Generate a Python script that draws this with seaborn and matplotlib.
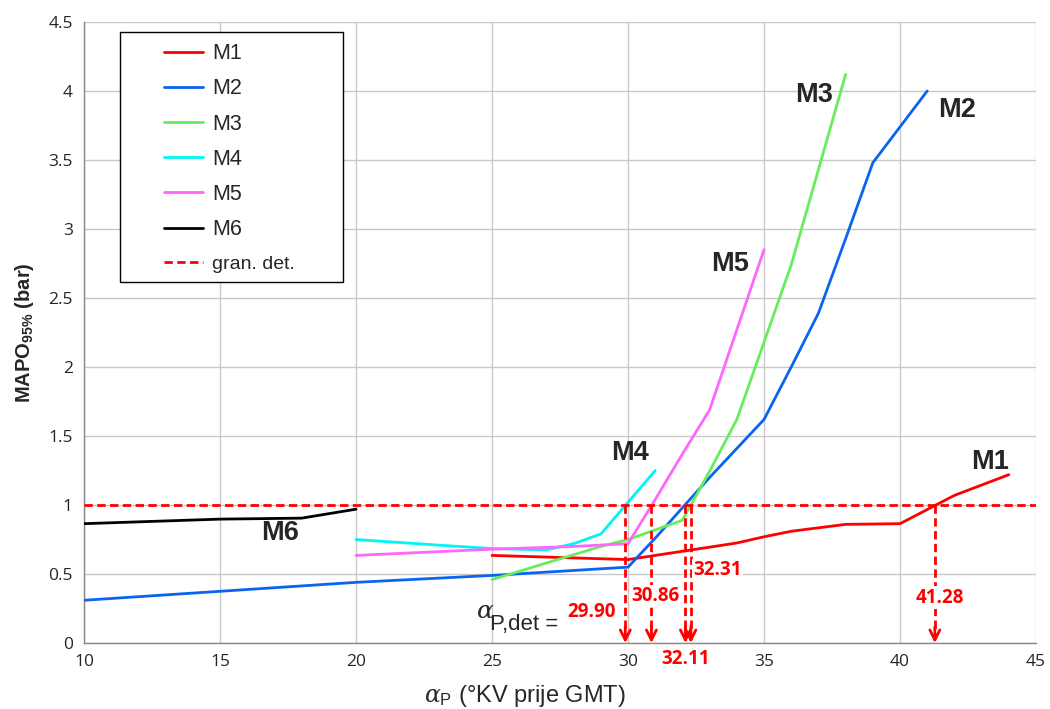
import matplotlib
matplotlib.use("Agg")
import matplotlib.pyplot as plt
import pandas as pd
import seaborn as sns
from matplotlib.lines import Line2D
from matplotlib.patches import Rectangle

# data
m1_x = [25, 30, 31, 32, 33, 34, 35, 36, 37, 38, 40, 42, 44]
m1_y = [0.635, 0.605, 0.635, 0.665, 0.695, 0.725, 0.77, 0.81, 0.835, 0.86, 0.865, 1.07, 1.22]
m2_x = [10, 20, 25, 30, 31, 32, 33, 34, 35, 36, 37, 38, 39, 40, 41]
m2_y = [0.31, 0.44, 0.49, 0.55, 0.76, 0.98, 1.2, 1.41, 1.62, 2.0, 2.39, 2.93, 3.48, 3.74, 4.0]
m3_x = [25, 27, 29, 30, 31, 32, 33, 34, 35, 36, 37, 38]
m3_y = [0.46, 0.58, 0.7, 0.75, 0.82, 0.89, 1.245, 1.62, 2.18, 2.74, 3.43, 4.12]
m4_x = [20, 23, 25, 27, 28, 29, 30, 31]
m4_y = [0.75, 0.71, 0.685, 0.675, 0.72, 0.79, 1.02, 1.25]
m5_x = [20, 25, 28, 30, 31, 32, 33, 34, 35]
m5_y = [0.635, 0.68, 0.70, 0.72, 1.04, 1.37, 1.69, 2.27, 2.85]
m6_x = [10, 15, 18, 20]
m6_y = [0.865, 0.898, 0.905, 0.97]

models = ["M1", "M2", "M3", "M4", "M5", "M6"]
colors = ["#ff0000", "#0a64f0", "#66ee5a", "#00f5f5", "#ff66ff", "#000000"]
det_limit = 1.0
det_values = [29.90, 30.86, 32.11, 32.31, 41.28]
det_labels = ["29.90", "30.86", "32.11", "32.31", "41.28"]

series = {
    "M1": (m1_x, m1_y), "M2": (m2_x, m2_y), "M3": (m3_x, m3_y),
    "M4": (m4_x, m4_y), "M5": (m5_x, m5_y), "M6": (m6_x, m6_y),
}
rows = []
for name, (xs, ys) in series.items():
    for x, y in zip(xs, ys):
        rows.append({"model": name, "alpha": x, "mapo": y})
df = pd.DataFrame(rows)

sns.set_style("whitegrid")
plt.rcParams["font.family"] = ["Liberation Sans", "DejaVu Sans"]
plt.rcParams["mathtext.fontset"] = "custom"
plt.rcParams["mathtext.rm"] = "Liberation Sans"
plt.rcParams["mathtext.bf"] = "Liberation Sans:bold"
plt.rcParams["mathtext.it"] = "DejaVu Serif:italic"

fig = plt.figure(figsize=(10.5, 7.09), dpi=100)
ax = fig.add_axes([0.08, 0.093, 0.9067, 0.876])

palette = dict(zip(models, colors))
sns.lineplot(data=df, x="alpha", y="mapo", hue="model", palette=palette,
             estimator=None, sort=False, linewidth=2, legend=False, ax=ax, zorder=3)

dash = (0, (3, 1.6))
ax.axhline(det_limit, color="#ff0000", linestyle=dash, linewidth=2, zorder=4)

# detection arrows
for xv in det_values:
    ax.plot([xv, xv], [det_limit, 0.06], color="#ff0000", linestyle=dash,
            linewidth=2, zorder=4)
    ax.annotate("", xy=(xv, 0.0), xytext=(xv, 0.12),
                arrowprops=dict(arrowstyle="->", color="#ff0000", lw=2,
                                mutation_scale=18, shrinkA=0, shrinkB=0),
                zorder=5)

lab_pos = {"29.90": (28.64, 0.225), "30.86": (31.0, 0.34), "32.11": (32.13, -0.116),
           "32.31": (33.3, 0.53), "41.28": (41.45, 0.33)}
for lab in det_labels:
    lx, ly = lab_pos[lab]
    ax.text(lx, ly, lab, color="#ff0000", fontsize=13.5, fontweight="bold",
            family="Open Sans", ha="center", va="center", zorder=6,
            bbox=dict(facecolor="white", edgecolor="none", pad=1.0), clip_on=False)

# alpha_P,det = label
ax.text(24.93, 0.094, "P,det =", fontsize=16, ha="left", va="baseline", zorder=6)
ax.text(25.05, 0.181, "\u03b1", fontsize=18, family="DejaVu Serif", style="italic",
        ha="right", va="baseline", zorder=6)

# curve labels
curve_labels = {"M1": (43.3, 1.31), "M2": (42.1, 3.86), "M3": (36.84, 3.97),
                "M4": (30.07, 1.38), "M5": (33.75, 2.75), "M6": (17.2, 0.80)}
for name, (lx, ly) in curve_labels.items():
    ax.text(lx, ly, name, fontsize=19.5, fontweight="bold", ha="center",
            va="center", zorder=6)

ax.set_xlim(10, 45)
ax.set_ylim(0, 4.5)
ax.set_xticks(range(10, 46, 5))
ax.set_yticks([0, 0.5, 1, 1.5, 2, 2.5, 3, 3.5, 4, 4.5])
ax.set_yticklabels(["0", "0.5", "1", "1.5", "2", "2.5", "3", "3.5", "4", "4.5"])
for lbl in ax.get_xticklabels() + ax.get_yticklabels():
    lbl.set_family("Open Sans")
    lbl.set_fontsize(12.5)
ax.tick_params(axis="both", length=4, color="#888888", pad=4)
ax.grid(True, color="#c8c8c8", linewidth=1)
for side in ["top", "right"]:
    ax.spines[side].set_visible(False)
for side in ["left", "bottom"]:
    ax.spines[side].set_color("#888888")
    ax.spines[side].set_linewidth(1)

ax.set_xlabel(r"$\alpha_{\mathrm{P}}$ (°KV prije GMT)", fontsize=17)
ax.xaxis.set_label_coords(0.463, -0.064)
ax.set_ylabel(r"MAPO$_{\mathbf{95\%}}$ (bar)", fontsize=14.5, fontweight="bold")
ax.yaxis.set_label_coords(-0.050, 0.5)

# legend: frame drawn separately because it is wider than its content
ax.add_patch(Rectangle((0.0378, 0.581), 0.2343, 0.403, transform=ax.transAxes,
                       facecolor="white", edgecolor="black", linewidth=1,
                       zorder=4.9))
handles = [Line2D([], [], color=c, lw=2) for c in colors]
handles.append(Line2D([], [], color="#ff0000", lw=2, linestyle=dash))
leg = ax.legend(handles, models + ["gran. det."], loc="upper left",
                bbox_to_anchor=(0.084, 0.966), fontsize=15.5, frameon=False,
                handlelength=1.81, handletextpad=0.42, labelspacing=0.66,
                borderpad=0, borderaxespad=0)
leg.set_zorder(5)
leg.get_texts()[-1].set_fontsize(14)

fig.savefig("out.png", dpi=100)
